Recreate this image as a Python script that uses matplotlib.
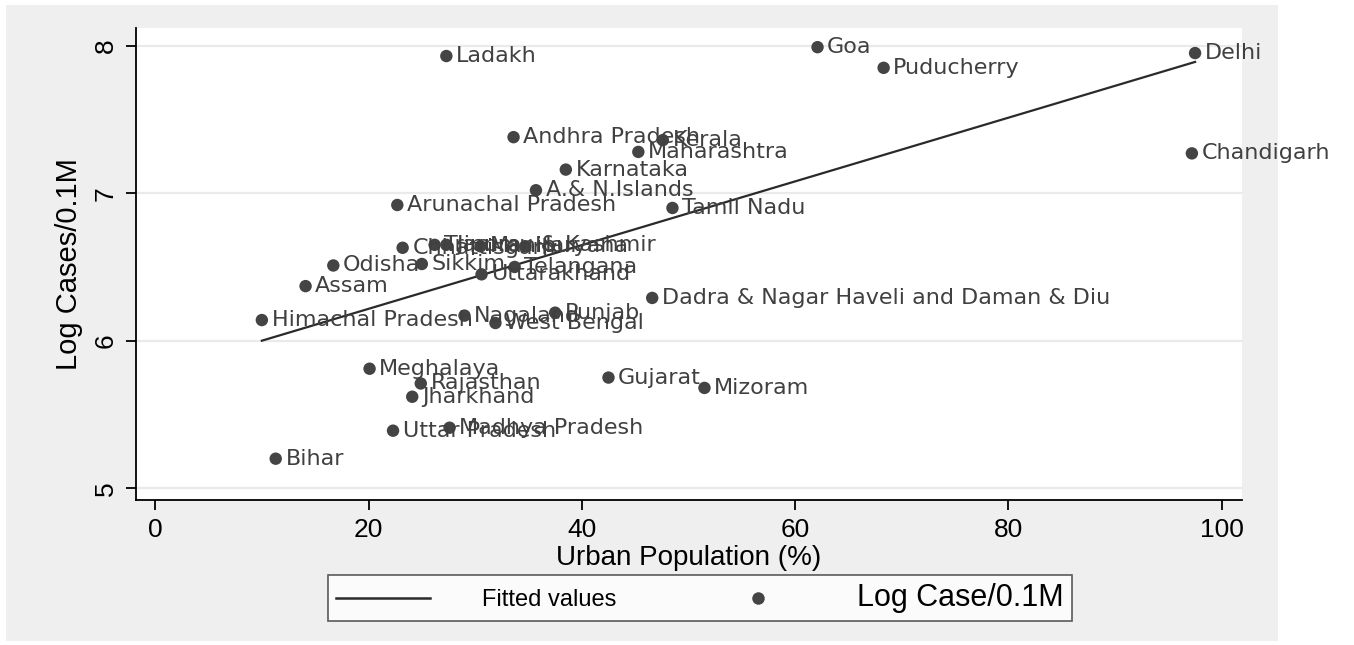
import numpy as np
import matplotlib.pyplot as plt
from matplotlib.lines import Line2D
from matplotlib.patches import Rectangle

plt.rcParams['font.family'] = ['Liberation Sans', 'DejaVu Sans']

# state/UT: urban population share (%) and log cases per 0.1M
states = ['Ladakh', 'Goa', 'Puducherry', 'Delhi', 'Chandigarh',
          'Andhra Pradesh', 'Kerala', 'Maharashtra', 'Karnataka',
          'A.& N.Islands', 'Arunachal Pradesh', 'Tamil Nadu',
          'Chhattisgarh', 'Tripura', 'Jammu & Kashmir', 'Manipur', 'Haryana',
          'Odisha', 'Sikkim', 'Telangana', 'Uttarakhand', 'Assam',
          'Dadra & Nagar Haveli and Daman & Diu', 'Himachal Pradesh',
          'Nagaland', 'West Bengal', 'Punjab', 'Meghalaya', 'Rajasthan',
          'Gujarat', 'Mizoram', 'Jharkhand', 'Madhya Pradesh',
          'Uttar Pradesh', 'Bihar']
urban_pct = [27.3, 62.1, 68.3, 97.5, 97.2,
             33.6, 47.6, 45.3, 38.5,
             35.7, 22.7, 48.5,
             23.2, 26.2, 27.3, 30.5, 34.7,
             16.7, 25.0, 33.7, 30.6, 14.1,
             46.6, 10.0,
             29.0, 31.9, 37.5, 20.1, 24.9,
             42.5, 51.5, 24.1, 27.6,
             22.3, 11.3]
log_cases = [7.93, 7.99, 7.85, 7.95, 7.27,
             7.38, 7.36, 7.28, 7.16,
             7.02, 6.92, 6.90,
             6.63, 6.65, 6.65, 6.64, 6.64,
             6.51, 6.52, 6.50, 6.45, 6.37,
             6.29, 6.14,
             6.17, 6.12, 6.19, 5.81, 5.71,
             5.75, 5.68, 5.62, 5.41,
             5.39, 5.20]

# fitted values line (end points)
fit_x = [10.0, 97.5]
fit_y = [6.00, 7.89]

fig = plt.figure(figsize=(13.54, 6.45), dpi=100)
fig.patch.set_facecolor('white')
fig.patches.append(Rectangle((6 / 1354, 4 / 645), 1272 / 1354, 636 / 645,
                             transform=fig.transFigure, facecolor='#efefef',
                             edgecolor='none', zorder=-10))

ax = fig.add_axes([136 / 1354, 1 - 500 / 645, 1106 / 1354, 472 / 645])
ax.set_facecolor('white')

dot_col = '#444444'
ax.plot(fit_x, fit_y, color='#2a2a2a', lw=1.6, zorder=2)
ax.scatter(urban_pct, log_cases, s=80, color=dot_col, zorder=3,
           edgecolors='none')
for name, x, y in zip(states, urban_pct, log_cases):
    ax.annotate(name, (x, y), xytext=(7, 0), textcoords='offset points',
                va='center', ha='left', fontsize=16, color='#404040',
                family=['DejaVu Sans'], zorder=4)

ax.set_xlim(-1.8, 101.9)
ax.set_ylim(4.92, 8.12)
ax.set_xticks([0, 20, 40, 60, 80, 100])
ax.set_yticks([5, 6, 7, 8])
ax.grid(axis='y', color='#eaeaea', lw=1.6)
ax.set_axisbelow(True)

for s in ['top', 'right']:
    ax.spines[s].set_visible(False)
for s in ['left', 'bottom']:
    ax.spines[s].set_linewidth(1.3)
    ax.spines[s].set_color('black')

ax.tick_params(axis='both', direction='out', length=7, width=1.3,
               labelsize=19, pad=6)
plt.setp(ax.get_yticklabels(), rotation=90, va='center')

ax.set_xlabel('Urban Population (%)', fontsize=20, labelpad=2)
ax.set_ylabel('Log Cases/0.1M', fontsize=21, labelpad=8)

handles = [Line2D([], [], color='#2a2a2a', lw=1.8),
           Line2D([], [], ls='none', marker='o', ms=9, color=dot_col,
                  markeredgewidth=0)]
leg = fig.legend(handles, ['Fitted values', 'Log Case/0.1M'], ncol=2,
                 loc='center', bbox_to_anchor=(700 / 1354, 1 - 598 / 645),
                 fontsize=17, frameon=True, fancybox=False,
                 handlelength=4.0, handletextpad=2.2, columnspacing=4.0,
                 borderpad=0.35)
leg.get_frame().set_edgecolor('#333333')
leg.get_frame().set_linewidth(1.2)
leg.get_texts()[1].set_fontsize(22)

fig.savefig('out.png', dpi=100, facecolor=fig.get_facecolor())
